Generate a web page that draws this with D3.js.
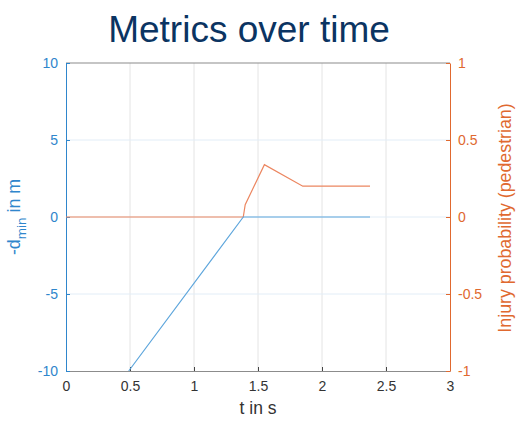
<!DOCTYPE html>
<html>
<head>
<meta charset="utf-8">
<script src="https://cdn.jsdelivr.net/npm/d3@7"></script>
<style>
  body { margin: 0; background: #fff; }
  svg { font-family: "Liberation Sans", Arial, sans-serif; }
</style>
</head>
<body>
<div id="chart"></div>
<script>
// values
const distT = [0.49, 1.385, 2.375];
const distV = [-10, 0, 0];
const injT = [0, 1.385, 1.40, 1.55, 1.85, 2.375];
const injV = [0, 0, 0.08, 0.34, 0.2, 0.2];
const xTicks = [0, 0.5, 1, 1.5, 2, 2.5, 3];
const leftTicks = [-10, -5, 0, 5, 10];
const rightTicks = [-1, -0.5, 0, 0.5, 1];

const width = 518;
const height = 423;
const marginTop = 63;
const marginRight = 68;
const marginBottom = 52;
const marginLeft = 66;

const blue = "#2f86cc";
const blueLine = "#5ea6dc";
const orange = "#e0692f";
const orangeLine = "#ec8660";

const fmt = d => String(d);

const x = d3.scaleLinear().domain([0, 3]).range([marginLeft, width - marginRight]);
const yL = d3.scaleLinear().domain([-10, 10]).range([height - marginBottom, marginTop]);
const yR = d3.scaleLinear().domain([-1, 1]).range([height - marginBottom, marginTop]);

const svg = d3.select("#chart").append("svg")
    .attr("width", width)
    .attr("height", height)
    .attr("viewBox", [0, 0, width, height]);

// grid
svg.append("g")
  .selectAll("line")
  .data(xTicks.slice(1, -1))
  .join("line")
    .attr("x1", d => x(d)).attr("x2", d => x(d))
    .attr("y1", marginTop).attr("y2", height - marginBottom)
    .attr("stroke", "#e4e4e4");

svg.append("g")
  .selectAll("line")
  .data(leftTicks.slice(1, -1))
  .join("line")
    .attr("x1", marginLeft).attr("x2", width - marginRight)
    .attr("y1", d => yL(d)).attr("y2", d => yL(d))
    .attr("stroke", "#e2edf7");

// top border
svg.append("line")
    .attr("x1", marginLeft).attr("x2", width - marginRight)
    .attr("y1", marginTop).attr("y2", marginTop)
    .attr("stroke", "#8c8c8c").attr("stroke-width", 1.2);

// bottom axis
svg.append("g")
    .attr("transform", `translate(0,${height - marginBottom})`)
    .call(d3.axisBottom(x).tickValues(xTicks).tickSizeInner(-4).tickSizeOuter(0).tickPadding(10).tickFormat(fmt))
    .call(g => g.select(".domain").attr("stroke", "#8c8c8c").attr("stroke-width", 1.2))
    .call(g => g.selectAll(".tick line").attr("stroke", "#444"))
    .call(g => g.selectAll(".tick text").attr("font-size", 14).attr("fill", "#333"));

// left axis
svg.append("g")
    .attr("transform", `translate(${marginLeft},0)`)
    .call(d3.axisLeft(yL).tickValues(leftTicks).tickSizeInner(-4).tickSizeOuter(0).tickPadding(8).tickFormat(fmt))
    .call(g => g.select(".domain").attr("stroke", blue))
    .call(g => g.selectAll(".tick line").attr("stroke", blue))
    .call(g => g.selectAll(".tick text").attr("font-size", 14).attr("fill", blue));

// right axis
svg.append("g")
    .attr("transform", `translate(${width - marginRight},0)`)
    .call(d3.axisRight(yR).tickValues(rightTicks).tickSizeInner(-4).tickSizeOuter(0).tickPadding(8).tickFormat(fmt))
    .call(g => g.select(".domain").attr("stroke", orange))
    .call(g => g.selectAll(".tick line").attr("stroke", orange))
    .call(g => g.selectAll(".tick text").attr("font-size", 14).attr("fill", orange));

// lines
const distLine = d3.line().x(d => x(d[0])).y(d => yL(d[1]));
const injLine = d3.line().x(d => x(d[0])).y(d => yR(d[1]));

svg.append("path")
    .datum(injT.map((t, i) => [t, injV[i]]))
    .attr("fill", "none")
    .attr("stroke", orangeLine)
    .attr("stroke-width", 1.2)
    .attr("d", injLine);

svg.append("path")
    .datum(distT.map((t, i) => [t, distV[i]]))
    .attr("fill", "none")
    .attr("stroke", blueLine)
    .attr("stroke-width", 1.2)
    .attr("d", distLine);

// title
svg.append("text")
    .attr("x", 249)
    .attr("y", 42)
    .attr("text-anchor", "middle")
    .attr("font-size", 37)
    .attr("fill", "#0b3462")
    .text("Metrics over time");

// x label
svg.append("text")
    .attr("x", (marginLeft + width - marginRight) / 2)
    .attr("y", 414)
    .attr("text-anchor", "middle")
    .attr("font-size", 17.5)
    .attr("fill", "#333")
    .text("t in s");

// left label with subscript
const ll = svg.append("text")
    .attr("transform", `translate(20,217) rotate(-90)`)
    .attr("text-anchor", "middle")
    .attr("font-size", 17.8)
    .attr("fill", blue);
ll.append("tspan").text("-d");
ll.append("tspan").attr("dy", 6).attr("font-size", 13.5).text("min");
ll.append("tspan").attr("dy", -6).text(" in m");

// right label
svg.append("text")
    .attr("transform", `translate(511,218) rotate(-90)`)
    .attr("text-anchor", "middle")
    .attr("font-size", 17.8)
    .attr("fill", orange)
    .text("Injury probability (pedestrian)");
</script>
</body>
</html>
